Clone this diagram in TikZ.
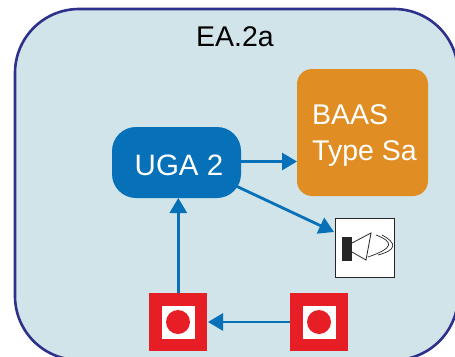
\documentclass[tikz,border=0pt]{standalone}
\usepackage{fontspec}
\setmainfont{Liberation Sans}
\usetikzlibrary{arrows.meta,positioning}
\definecolor{panelfill}{RGB}{208,228,234}
\definecolor{panelline}{RGB}{46,49,139}
\definecolor{ugablue}{RGB}{6,112,184}
\definecolor{baasorange}{RGB}{224,141,36}
\definecolor{alarmred}{RGB}{231,30,38}
\tikzset{
  x=1pt,y=-1pt,
  lbl/.style={font=\fontsize{28.5}{36}\selectfont},
  flow/.style={draw=ugablue,line width=2.8pt,-{Triangle[length=15pt,width=17pt]}},
  redsq/.style={fill=alarmred,minimum size=58pt,inner sep=0pt,outer sep=0pt},
  whitesq/.style={fill=white,minimum size=33pt,inner sep=0pt},
  reddot/.style={circle,fill=alarmred,minimum size=24pt,inner sep=0pt},
}
\begin{document}
\begin{tikzpicture}
\useasboundingbox (0,0) rectangle (455,356);
\clip (0,0) rectangle (455,356);
\fill[white] (0,0) rectangle (455,356);
\draw[panelline,fill=panelfill,line width=2.6pt,rounded corners=64pt] (15,9) rectangle (458,360);
\node[lbl,inner sep=0pt] (title) at (235,37) {EA.2a};
\node[fill=baasorange,rounded corners=15pt,minimum width=131pt,minimum height=127pt,inner sep=0pt,outer sep=0pt] (baas) at (362.5,132.5) {};
\node[lbl,anchor=west,align=left,inner sep=0pt,text=white] (baast) at (baas.west) [xshift=15pt,yshift=-3pt] {BAAS\\Type Sa};
\node[fill=ugablue,rounded corners=24pt,minimum width=129pt,minimum height=71pt,inner sep=0pt,outer sep=0pt] (uga) at (176.5,162.5) {};
\node[font=\fontsize{29.5}{36}\selectfont,text=white,inner sep=0pt] (ugat) at (179,165.5) {UGA 2};
\node[fill=white,draw=black!85,line width=0.8pt,minimum size=59pt,inner sep=0pt,outer sep=0pt] (spk) at (365,247.5) {};
\fill[black!85] (342,237) rectangle (352,261);
\draw[black!85,line width=0.8pt] (352,243) -- (371,233) -- (366,260) -- (352,252);
\draw[black!85,line width=0.7pt] (376,235) .. controls (394,242) and (394,248) .. (368,257);
\draw[black!85,line width=0.7pt] (382,235) .. controls (397,243) and (397,250) .. (378,255);
\node[redsq] (r1) at (178,322) {};
\node[whitesq] at (r1) {};
\node[reddot] at (r1) {};
\node[redsq] (r2) at (319,322) {};
\node[whitesq] at (r2) {};
\node[reddot] at (r2) {};
\coordinate (uga1) at (241,161.5);
\coordinate (baas1) at (297,161.5);
\coordinate (uga2) at (236,186);
\coordinate (spk1) at (334,232);
\draw[flow] (r1.north -| 178.3,0) -- (uga.south -| 178.3,0);
\draw[flow] (uga1) -- (baas1);
\draw[flow] (uga2) -- (spk1);
\draw[flow] (r2.west) -- (208,322);
\end{tikzpicture}
\end{document}
